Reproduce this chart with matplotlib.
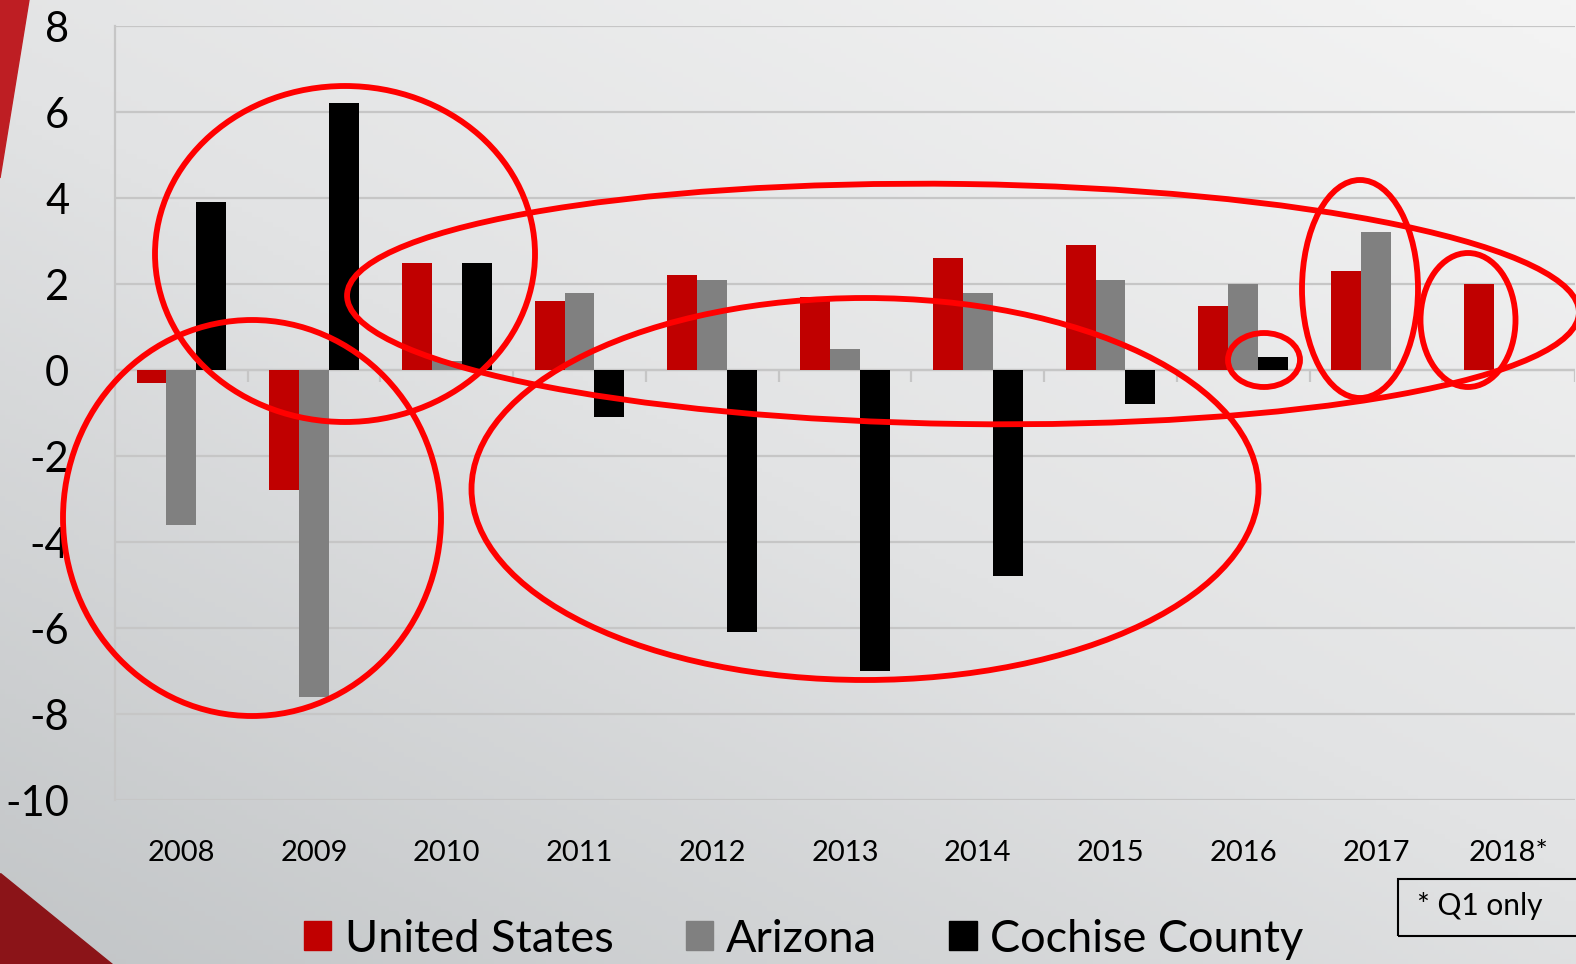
import numpy as np
import matplotlib
matplotlib.use("Agg")
import matplotlib.pyplot as plt
from matplotlib.patches import Ellipse, Polygon, Rectangle
from matplotlib.colors import LinearSegmentedColormap

# ---- data ----
years = ["2008", "2009", "2010", "2011", "2012", "2013", "2014", "2015", "2016", "2017", "2018*"]
united_states = [-0.3, -2.8, 2.5, 1.6, 2.2, 1.7, 2.6, 2.9, 1.5, 2.3, 2.0]
arizona = [-3.6, -7.6, 0.2, 1.8, 2.1, 0.5, 1.8, 2.1, 2.0, 3.2, np.nan]
cochise = [3.9, 6.2, 2.5, -1.1, -6.1, -7.0, -4.8, -0.8, 0.3, np.nan, np.nan]
series_names = ["United States", "Arizona", "Cochise County"]
series_colors = ["#C00000", "#808080", "#000000"]
y_ticks = [-10, -8, -6, -4, -2, 0, 2, 4, 6, 8]

plt.rcParams['font.family'] = ['Lato', 'DejaVu Sans']

W, H = 1576, 964
fig = plt.figure(figsize=(W / 100, H / 100), dpi=100)

# ---- background gradient ----
bg = fig.add_axes([0, 0, 1, 1], zorder=-10)
yy, xx = np.mgrid[0:1:200j, 0:1:300j]  # yy: 0 top -> 1 bottom
t = 0.55 * yy + 0.45 * (1 - xx)
t = np.clip(t, 0, 1)
cmap = LinearSegmentedColormap.from_list("bg", ["#f4f4f4", "#e2e3e4", "#c2c5c7"])
bg.imshow(t, cmap=cmap, extent=[0, W, H, 0], aspect='auto', vmin=0, vmax=1)
bg.add_patch(Polygon([(0, 0), (29, 0), (0, 178)], closed=True, color="#BE1E23"))
bg.add_patch(Polygon([(0, 873), (0, 964), (112, 964)], closed=True, color="#8B1418"))
bg.set_xlim(0, W)
bg.set_ylim(H, 0)
bg.axis('off')

# ---- main axes ----
left = 115 / W
right = 1575 / W
bottom = 1 - 800 / H
top = 1 - 26 / H
ax = fig.add_axes([left, bottom, right - left, top - bottom])
ax.patch.set_alpha(0)

x = np.arange(len(years))
bw = 0.225
for i, (vals, col) in enumerate(zip([united_states, arizona, cochise], series_colors)):
    ax.bar(x + (i - 1) * bw, vals, width=bw, color=col, zorder=3, label=series_names[i])

ax.set_xlim(-0.5, len(years) - 0.5)
ax.set_ylim(-10, 8)
ax.set_yticks(y_ticks)
ax.set_yticklabels([str(v) for v in y_ticks], fontsize=30)
ax.set_xticks(x)
ax.set_xticklabels(years, fontsize=21)
ax.tick_params(axis='both', length=0)
ax.tick_params(axis='x', pad=29)
ax.tick_params(axis='y', pad=33)
ax.grid(axis='y', color='#c6c6c6', linewidth=1.6, zorder=0)
for s in ['top', 'right', 'bottom']:
    ax.spines[s].set_visible(False)
ax.spines['left'].set_color('#c6c6c6')
ax.spines['left'].set_linewidth(1.6)
ax.axhline(0, color='#c6c6c6', linewidth=1.6, zorder=1)
bounds = np.arange(len(years) + 1) - 0.5
ax.vlines(bounds[1:], -0.28, 0, color='#c6c6c6', linewidth=1.6, zorder=1)

# ---- legend ----
handles = [Rectangle((0, 0), 1, 1, color=c) for c in series_colors]
fig.legend(handles, series_names, loc='center left', bbox_to_anchor=(304 / W, 1 - 939 / H),
           ncol=3, frameon=False, fontsize=32.5, handlelength=0.6, handleheight=0.6,
           handletextpad=0.3, columnspacing=1.6, borderpad=0, borderaxespad=0)

# ---- note box ----
fig.add_artist(Rectangle((1398 / W, 1 - 936 / H), 200 / W, 57 / H, transform=fig.transFigure,
                         fill=False, edgecolor='black', linewidth=1.5))
fig.text(1417 / W, 1 - 906 / H, "* Q1 only", fontsize=21.5, va='center', ha='left')

# ---- red ellipse annotations (pixel coords) ----
ov = fig.add_axes([0, 0, 1, 1], zorder=10)
ov.set_xlim(0, W)
ov.set_ylim(H, 0)
ov.axis('off')
ov.patch.set_alpha(0)
ellipses = [
    (345, 254, 380, 336, 0),
    (252, 518, 378, 396, 0),
    (963, 304, 1232, 240, 0.8),
    (865, 489, 787, 382, 0),
    (1264, 360, 72, 54, 0),
    (1360, 289, 116, 218, 0),
    (1468, 320, 95, 134, 0),
]
for cx, cy, w, h, ang in ellipses:
    ov.add_patch(Ellipse((cx, cy), w, h, angle=ang, fill=False, edgecolor='#FF0000', linewidth=4.2))

fig.savefig("out.png", dpi=100)
